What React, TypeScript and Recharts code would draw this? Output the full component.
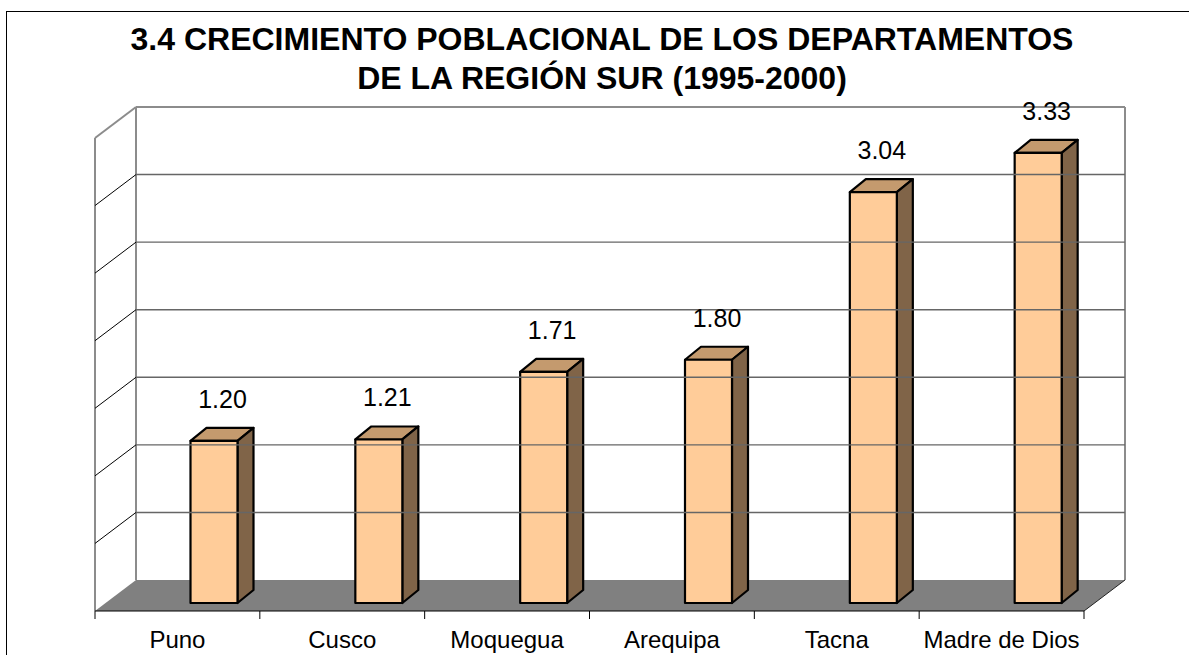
import { BarChart, Bar, XAxis, YAxis, ReferenceArea, ReferenceLine, LabelList } from "recharts";

const categories = ["Puno", "Cusco", "Moquegua", "Arequipa", "Tacna", "Madre de Dios"];
const growth = [1.2, 1.21, 1.71, 1.8, 3.04, 3.33];
const yTicks = [0, 0.5, 1, 1.5, 2, 2.5, 3, 3.5];
const titleLines = ["3.4 CRECIMIENTO POBLACIONAL DE LOS DEPARTAMENTOS", "DE LA REGIÓN SUR (1995-2000)"];

const data = categories.map((name, i) => ({ name, value: growth[i] }));

// depth of the 3D box (back wall -> front edge of floor)
const DX = 41;
const DY = 31;
const FONT = "'Liberation Sans', Arial, sans-serif";

function Walls(props: any) {
  const { x, y, width: w, height: h } = props;
  const wall = "#8c8c8c";
  return (
    <g>
      <polygon
        points={`${x},${y + h} ${x + w},${y + h} ${x + w - DX},${y + h + DY} ${x - DX},${y + h + DY}`}
        fill="#808080"
      />
      <line x1={x} y1={y} x2={x + w} y2={y} stroke={wall} strokeWidth={2} />
      <line x1={x} y1={y} x2={x} y2={y + h} stroke={wall} strokeWidth={2} />
      <line x1={x + w} y1={y} x2={x + w} y2={y + h} stroke={wall} strokeWidth={2} />
      <line x1={x - DX} y1={y + DY} x2={x} y2={y} stroke={wall} strokeWidth={2} />
      <line x1={x - DX} y1={y + DY} x2={x - DX} y2={y + h + DY} stroke={wall} strokeWidth={2} />
      <line x1={x + w} y1={y + h} x2={x + w - DX} y2={y + h + DY} stroke="#222" strokeWidth={1} />
      <line x1={x - DX} y1={y + h + DY} x2={x + w - DX} y2={y + h + DY} stroke="#000" strokeWidth={1.2} />
    </g>
  );
}

function GridLine(props: any) {
  const { x1, y1, x2 } = props;
  const left = Math.min(x1, x2);
  const right = Math.max(x1, x2);
  return (
    <g>
      <line x1={left} y1={y1} x2={right} y2={y1} stroke="#666" strokeWidth={1.4} />
      <line x1={left} y1={y1} x2={left - DX} y2={y1 + DY} stroke="#000" strokeWidth={1} />
    </g>
  );
}

function Box3D(props: any) {
  const { x, y, width, height } = props;
  const cx = x + width / 2;
  const fl = cx - 28;
  const fr = fl + 47;
  const ft = y + 23;
  const fb = y + height + 23;
  const dx = 16;
  const dy = 13;
  return (
    <g stroke="#000" strokeWidth={2.2} strokeLinejoin="round">
      <polygon points={`${fl},${ft} ${fl + dx},${ft - dy} ${fr + dx},${ft - dy} ${fr},${ft}`} fill="#c49a6e" />
      <polygon points={`${fr},${ft} ${fr + dx},${ft - dy} ${fr + dx},${fb - dy} ${fr},${fb}`} fill="#806448" />
      <rect x={fl} y={ft} width={fr - fl} height={fb - ft} fill="#ffcc99" />
    </g>
  );
}

function ValueLabel(props: any) {
  const { x, y, width, value } = props;
  return (
    <text x={x + width / 2 + 4} y={y - 10} textAnchor="middle" fontSize={25} fontFamily={FONT} fill="#000">
      {Number(value).toFixed(2)}
    </text>
  );
}

function CategoryTick(props: any) {
  const { x, y, payload, index } = props;
  const fx = x - DX;
  const half = 989 / 12;
  return (
    <g>
      <line x1={fx - half} y1={y + 23} x2={fx - half} y2={y + 31} stroke="#000" strokeWidth={1} />
      {index === categories.length - 1 && (
        <line x1={fx + half} y1={y + 23} x2={fx + half} y2={y + 31} stroke="#000" strokeWidth={1} />
      )}
      <text x={fx} y={y + 60} textAnchor="middle" fontSize={24} fontFamily={FONT} fill="#000">
        {payload.value}
      </text>
    </g>
  );
}

export default function App() {
  return (
    <div
      style={{
        position: "absolute",
        left: 0,
        top: 0,
        width: 1189,
        height: 655,
        overflow: "hidden",
        background: "#fff",
        fontFamily: FONT,
      }}
    >
      <div
        style={{
          position: "absolute",
          left: 6,
          top: 11,
          width: 1200,
          height: 700,
          border: "1px solid #000",
        }}
      />
      <div
        style={{
          position: "absolute",
          left: 0,
          top: 20,
          width: 1204,
          textAlign: "center",
          fontSize: 32,
          fontWeight: "bold",
          lineHeight: "39px",
        }}
      >
        {titleLines.map((t) => (
          <div key={t}>{t}</div>
        ))}
      </div>
      <div style={{ position: "absolute", left: 0, top: 0 }}>
        <BarChart width={1189} height={655} data={data} margin={{ top: 107, right: 64, left: 136, bottom: 35 }}>
          <ReferenceArea y1={0} y2={3.5} shape={<Walls />} ifOverflow="visible" />
          {yTicks.slice(1, -1).map((t) => (
            <ReferenceLine key={t} y={t} shape={(p: any) => <GridLine {...p} />} ifOverflow="visible" />
          ))}
          <XAxis
            dataKey="name"
            height={40}
            axisLine={false}
            tickLine={false}
            interval={0}
            tick={<CategoryTick />}
          />
          <YAxis
            width={0}
            domain={[0, 3.5]}
            ticks={yTicks}
            tick={false}
            axisLine={false}
            tickLine={false}
          />
          <Bar dataKey="value" barSize={47} shape={<Box3D />} isAnimationActive={false}>
            <LabelList dataKey="value" content={<ValueLabel />} />
          </Bar>
        </BarChart>
      </div>
    </div>
  );
}
